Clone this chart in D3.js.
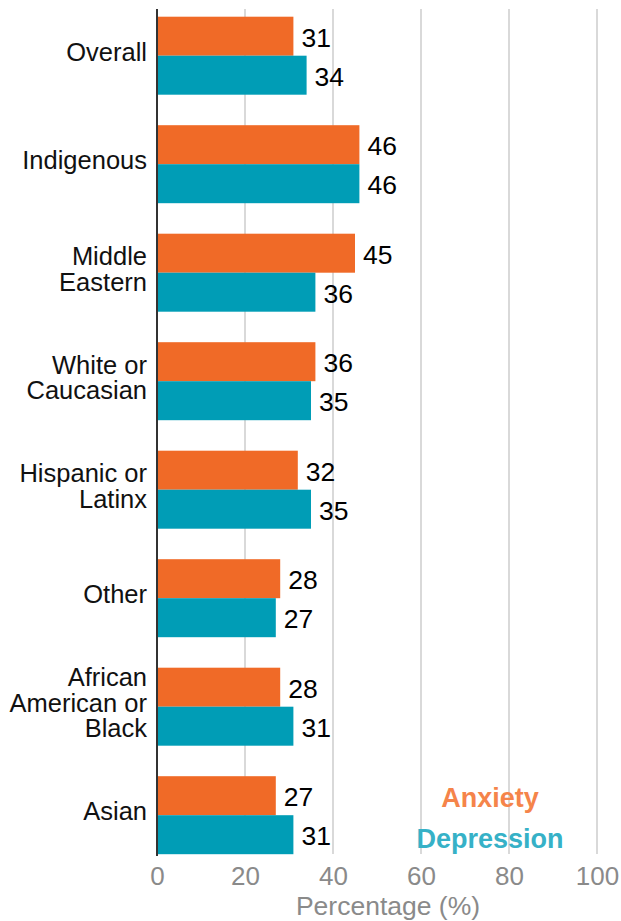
<!DOCTYPE html>
<html>
<head>
<meta charset="utf-8">
<script src="https://cdn.jsdelivr.net/npm/d3@7"></script>
<style>
  html, body { margin: 0; padding: 0; background: #fff; }
  svg text { font-family: "Liberation Sans", Arial, Helvetica, sans-serif; }
</style>
</head>
<body>
<svg id="chart" width="621" height="921"></svg>
<script>
// Survey groups (top to bottom) with their line-broken labels
const categories = ["Overall", "Indigenous", "Middle Eastern", "White or Caucasian",
  "Hispanic or Latinx", "Other", "African American or Black", "Asian"];
const categoryLines = [["Overall"], ["Indigenous"], ["Middle", "Eastern"], ["White or", "Caucasian"],
  ["Hispanic or", "Latinx"], ["Other"], ["African", "American or", "Black"], ["Asian"]];
const anxiety = [31, 46, 45, 36, 32, 28, 28, 27];
const depression = [34, 46, 36, 35, 35, 27, 31, 31];
const seriesNames = ["Anxiety", "Depression"];
const xTicks = [0, 20, 40, 60, 80, 100];

const barColors = { Anxiety: "#f06a27", Depression: "#009db6" };
const legendColors = { Anxiety: "#f5844a", Depression: "#36b1c7" };

const svg = d3.select("#chart");
const plotBottom = 854;

const x = d3.scaleLinear().domain([0, 100]).range([157, 597]);
const stepPx = 108.5, gapPx = 30.5;
const pad = gapPx / stepPx;
const y = d3.scaleBand().domain(categories)
  .range([16.7 - gapPx / 2, 16.7 - gapPx / 2 + stepPx * categories.length])
  .paddingInner(pad).paddingOuter(pad / 2);
const ySub = d3.scaleBand().domain(seriesNames).range([0, y.bandwidth()]);

// vertical gridlines
svg.append("g").selectAll("line").data(xTicks.filter(d => d > 0)).join("line")
  .attr("x1", d => x(d)).attr("x2", d => x(d))
  .attr("y1", 9).attr("y2", plotBottom)
  .attr("stroke", "#d9d9d9").attr("stroke-width", 2);

// bars
const rows = categories.map((c, i) => ({ cat: c, vals: [
  { s: "Anxiety", v: anxiety[i] }, { s: "Depression", v: depression[i] }] }));

const groups = svg.append("g").selectAll("g").data(rows).join("g")
  .attr("transform", d => `translate(0,${y(d.cat)})`);

groups.selectAll("rect").data(d => d.vals).join("rect")
  .attr("x", x(0) + 1)
  .attr("y", d => ySub(d.s))
  .attr("width", d => x(d.v) - x(0) - 1)
  .attr("height", ySub.bandwidth())
  .attr("fill", d => barColors[d.s]);

groups.selectAll("text.val").data(d => d.vals).join("text")
  .attr("class", "val")
  .attr("x", d => x(d.v) + 8)
  .attr("y", d => ySub(d.s) + ySub.bandwidth() / 2 + 1)
  .attr("dy", "0.36em")
  .attr("font-size", 26.5)
  .attr("fill", "#000")
  .text(d => d.v);

// category labels
const lineH = 25.5;
svg.append("g").selectAll("text").data(categories).join("text")
  .attr("text-anchor", "end")
  .attr("font-size", 25.5)
  .attr("fill", "#111")
  .each(function (c, i) {
    const lines = categoryLines[i];
    const cy = y(c) + y.bandwidth() / 2;
    const t = d3.select(this);
    lines.forEach((ln, k) => {
      t.append("tspan")
        .attr("x", 147)
        .attr("y", cy + (k - (lines.length - 1) / 2) * lineH)
        .attr("dy", "0.2em")
        .text(ln);
    });
  });

// x axis
const xAxis = d3.axisBottom(x).tickValues(xTicks).tickSize(0).tickPadding(0);
const gx = svg.append("g").attr("transform", `translate(0,${plotBottom})`).call(xAxis);
gx.select(".domain").remove();
gx.selectAll("text").attr("font-size", 26).attr("fill", "#8a8a8a")
  .attr("font-family", "Liberation Sans, Arial, sans-serif")
  .attr("y", 22).attr("dy", "0.36em");

svg.append("text")
  .attr("x", 388).attr("y", 915)
  .attr("text-anchor", "middle").attr("font-size", 26.5).attr("fill", "#8a8a8a")
  .text("Percentage (%)");

// left axis line
svg.append("line")
  .attr("x1", x(0)).attr("x2", x(0)).attr("y1", 9).attr("y2", plotBottom + 2)
  .attr("stroke", "#333").attr("stroke-width", 2);

// legend
svg.append("g").selectAll("text").data(seriesNames).join("text")
  .attr("x", 490)
  .attr("y", (d, i) => 797 + i * 41)
  .attr("dy", "0.36em")
  .attr("text-anchor", "middle")
  .attr("font-size", 27)
  .attr("font-weight", "bold")
  .attr("fill", d => legendColors[d])
  .text(d => d);
</script>
</body>
</html>
